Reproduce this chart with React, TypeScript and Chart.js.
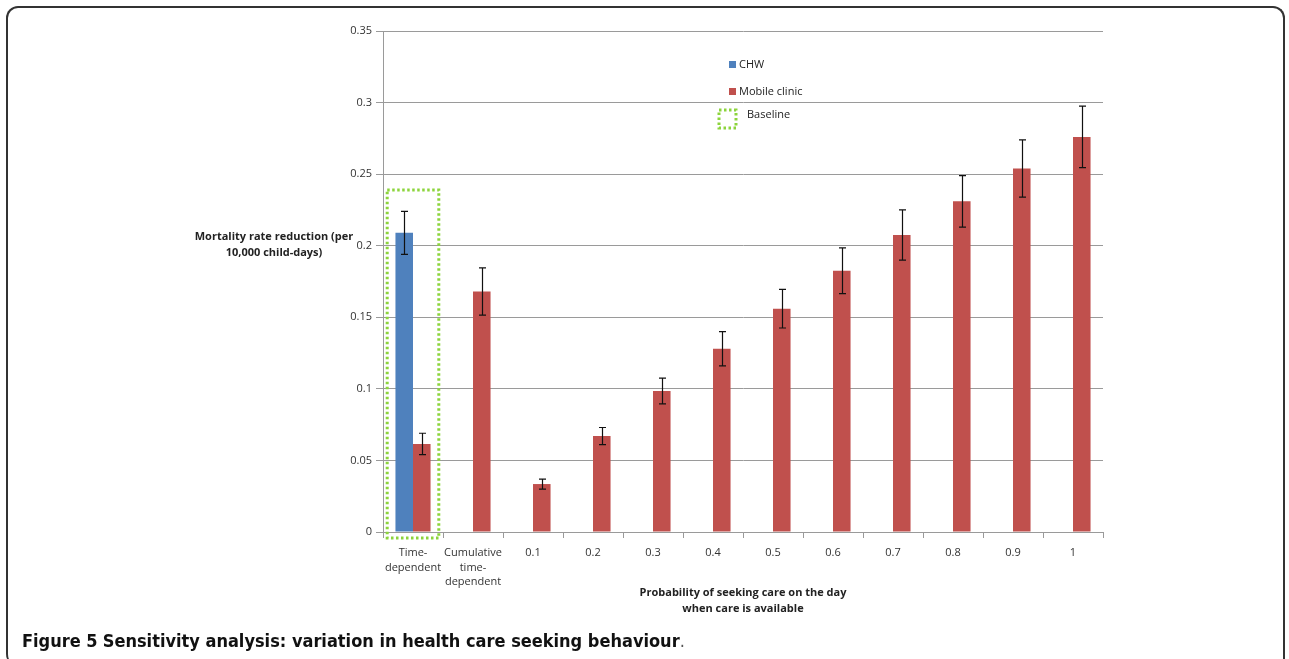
import React, { useEffect, useRef } from "react";
import { Chart, registerables } from "chart.js";

Chart.register(...registerables);

const categories: (string | string[])[] = [
  ["Time-", "dependent"],
  ["Cumulative", "time-", "dependent"],
  "0.1",
  "0.2",
  "0.3",
  "0.4",
  "0.5",
  "0.6",
  "0.7",
  "0.8",
  "0.9",
  "1",
];
const chwValues = [0.209, null, null, null, null, null, null, null, null, null, null, null];
const chwErrors = [0.015, null, null, null, null, null, null, null, null, null, null, null];
const mobileValues = [0.0615, 0.168, 0.0335, 0.067, 0.0985, 0.128, 0.156, 0.1825, 0.2075, 0.231, 0.254, 0.276];
const mobileErrors = [0.0075, 0.0165, 0.0035, 0.006, 0.009, 0.012, 0.0135, 0.016, 0.0175, 0.018, 0.02, 0.0215];
const yMax = 0.35;
const yStep = 0.05;
const baselineTop = 0.239;
const yTitleLines = ["Mortality rate reduction (per", "10,000 child-days)"];
const xTitleLines = ["Probability of seeking care on the day", "when care is available"];
const legendItems = ["CHW", "Mobile clinic", "Baseline"];

const BLUE = "#4F81BD";
const RED = "#C0504D";
const GREEN = "#8CD43C";
const GRID = "#9a9a9a";
const FONT = "'Open Sans', 'Liberation Sans', sans-serif";

const errorBarPlugin = {
  id: "errorBars",
  afterDatasetsDraw(chart: any) {
    const ctx = chart.ctx;
    const y = chart.scales.y;
    const errs = [chwErrors, mobileErrors];
    const vals = [chwValues, mobileValues];
    ctx.save();
    ctx.strokeStyle = "#111";
    ctx.lineWidth = 1.2;
    chart.data.datasets.forEach((_: any, di: number) => {
      const meta = chart.getDatasetMeta(di);
      meta.data.forEach((bar: any, i: number) => {
        const v = vals[di][i];
        const e = errs[di][i];
        if (v == null || e == null) return;
        const x = Math.round(bar.x) + 0.5;
        const yt = y.getPixelForValue(v + e);
        const yb = y.getPixelForValue(v - e);
        ctx.beginPath();
        ctx.moveTo(x, yt);
        ctx.lineTo(x, yb);
        ctx.moveTo(x - 3.5, yt);
        ctx.lineTo(x + 3.5, yt);
        ctx.moveTo(x - 3.5, yb);
        ctx.lineTo(x + 3.5, yb);
        ctx.stroke();
      });
    });
    ctx.restore();
  },
};

const decorPlugin = {
  id: "decor",
  afterDraw(chart: any) {
    const ctx = chart.ctx;
    const area = chart.chartArea;
    const xs = chart.scales.x;
    const ys = chart.scales.y;
    ctx.save();
    // Baseline dotted box
    const cx = xs.getPixelForValue(0);
    const half = (xs.getPixelForValue(1) - cx) * 0.43;
    const top = ys.getPixelForValue(baselineTop);
    const bottom = ys.getPixelForValue(0) + 6;
    ctx.strokeStyle = GREEN;
    ctx.lineWidth = 3;
    ctx.setLineDash([2.5, 2.5]);
    ctx.strokeRect(cx - half, top, half * 2, bottom - top);

    // Legend
    const lx = area.left + 346;
    const ly = area.top + 34;
    ctx.setLineDash([]);
    ctx.fillStyle = BLUE;
    ctx.fillRect(lx, ly - 4, 7, 7);
    ctx.fillStyle = RED;
    ctx.fillRect(lx, ly + 23, 7, 7);
    ctx.strokeStyle = GREEN;
    ctx.lineWidth = 3;
    ctx.setLineDash([2.5, 2.5]);
    ctx.strokeRect(lx - 10, ly + 45, 17, 18);
    ctx.setLineDash([]);
    ctx.fillStyle = "#222";
    ctx.font = `11px ${FONT}`;
    ctx.textAlign = "left";
    ctx.textBaseline = "middle";
    ctx.fillText(legendItems[0], lx + 10, ly);
    ctx.fillText(legendItems[1], lx + 10, ly + 27);
    ctx.fillText(legendItems[2], lx + 18, ly + 50);

    // Y title (horizontal)
    ctx.font = `bold 11px ${FONT}`;
    ctx.textAlign = "center";
    const ytx = area.left - 109;
    ctx.fillText(yTitleLines[0], ytx, area.top + 206);
    ctx.fillText(yTitleLines[1], ytx, area.top + 222);

    // X title
    const xtx = (area.left + area.right) / 2;
    ctx.fillText(xTitleLines[0], xtx, area.bottom + 61);
    ctx.fillText(xTitleLines[1], xtx, area.bottom + 77);
    ctx.restore();
  },
};

export default function App() {
  const ref = useRef<HTMLCanvasElement | null>(null);
  useEffect(() => {
    if (!ref.current) return;
    const chart = new Chart(ref.current, {
      type: "bar",
      data: {
        labels: categories,
        datasets: [
          {
            label: "CHW",
            data: chwValues,
            backgroundColor: BLUE,
            categoryPercentage: 0.585,
            barPercentage: 1,
          },
          {
            label: "Mobile clinic",
            data: mobileValues,
            backgroundColor: RED,
            categoryPercentage: 0.585,
            barPercentage: 1,
          },
        ],
      },
      options: {
        animation: false,
        responsive: false,
        layout: { padding: { left: 0, top: 31, right: 186, bottom: 37 } },
        plugins: { legend: { display: false }, tooltip: { enabled: false } },
        scales: {
          x: {
            afterFit(scale: any) {
              scale.height = 90;
            },
            grid: {
              display: true,
              offset: true,
              drawOnChartArea: false,
              tickLength: 6,
              color: GRID,
            },
            border: { color: GRID },
            ticks: {
              color: "#333",
              font: { family: FONT, size: 11, lineHeight: 1.3 },
              padding: 8,
              maxRotation: 0,
              autoSkip: false,
            },
          },
          y: {
            min: 0,
            max: yMax,
            afterFit(scale: any) {
              scale.width = 383;
            },
            grid: { color: GRID, tickLength: 7 },
            border: { color: GRID },
            ticks: {
              stepSize: yStep,
              color: "#333",
              font: { family: FONT, size: 11 },
              padding: 4,
              callback: (v: any) => String(parseFloat(Number(v).toFixed(2))),
            },
          },
        },
      },
      plugins: [errorBarPlugin, decorPlugin],
    });
    return () => chart.destroy();
  }, []);

  return (
    <div style={{ position: "absolute", left: 0, top: 0, width: 1289, height: 659, background: "#fff", overflow: "hidden" }}>
      <div
        style={{
          position: "absolute",
          left: 6,
          top: 6,
          width: 1279,
          height: 660,
          borderLeft: "2px solid #333",
          borderTop: "2px solid #333",
          borderRight: "2px solid #333",
          borderRadius: "12px 12px 0 12px",
          boxSizing: "border-box",
        }}
      />
      <canvas ref={ref} width={1289} height={659} style={{ position: "absolute", left: 0, top: 0, width: 1289, height: 659 }} />
      <div
        style={{
          position: "absolute",
          left: 22,
          top: 630,
          fontFamily: "'DejaVu Sans Condensed', 'Liberation Sans Narrow', sans-serif",
          fontStretch: "condensed",
          fontSize: 18,
          lineHeight: "22px",
          color: "#111",
          whiteSpace: "nowrap",
        }}
      >
        <b>Figure 5</b> <b style={{ fontWeight: 700 }}>Sensitivity analysis: variation in health care seeking behaviour</b>
        <span style={{ color: "#555" }}>.</span>
      </div>
    </div>
  );
}
